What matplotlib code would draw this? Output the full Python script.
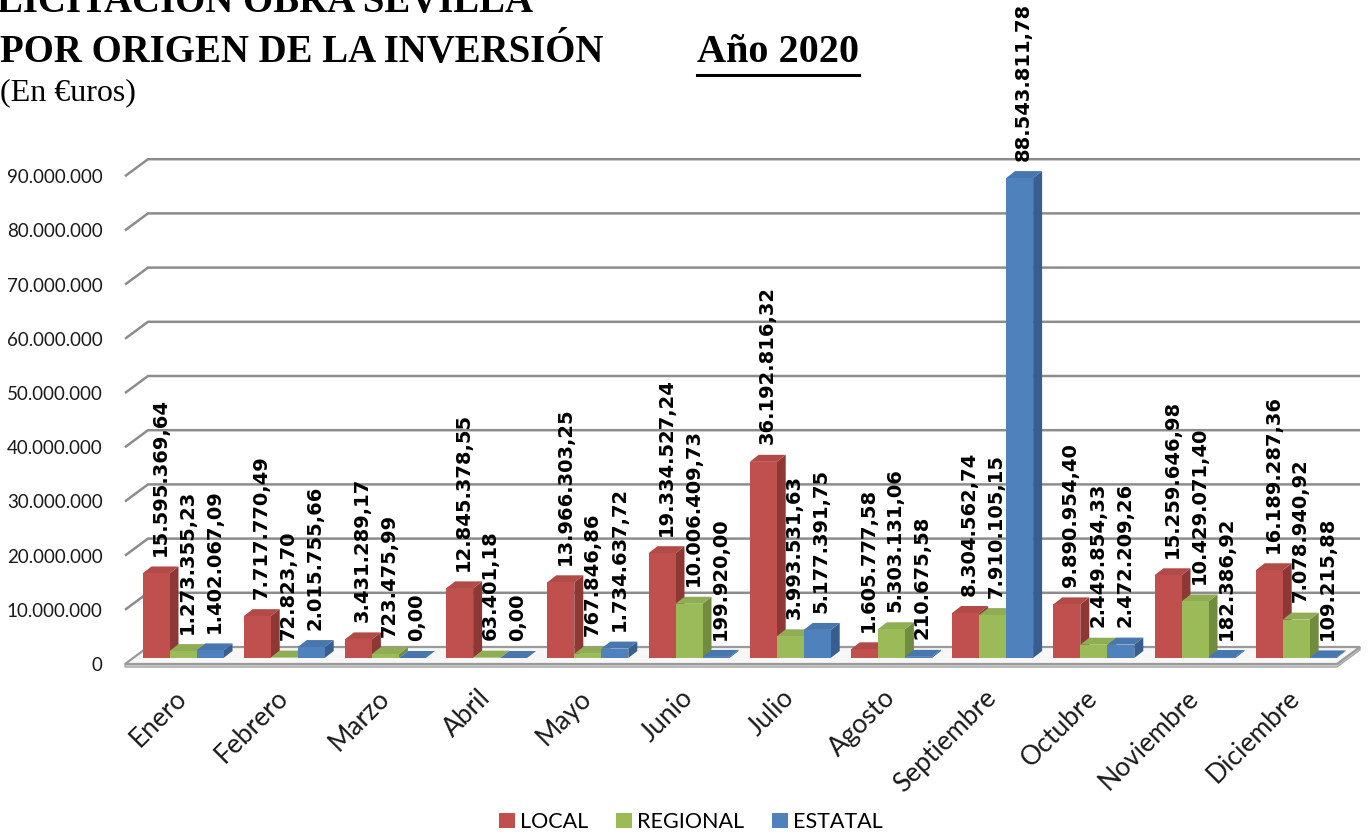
import matplotlib
matplotlib.use("Agg")
import matplotlib.pyplot as plt
from matplotlib.patches import Polygon, Patch
from matplotlib.lines import Line2D

# ---------------- data ----------------
months = ["Enero", "Febrero", "Marzo", "Abril", "Mayo", "Junio", "Julio",
          "Agosto", "Septiembre", "Octubre", "Noviembre", "Diciembre"]
series_names = ["LOCAL", "REGIONAL", "ESTATAL"]
local = [15595369.64, 7717770.49, 3431289.17, 12845378.55, 13966303.25, 19334527.24,
         36192816.32, 1605777.58, 8304562.74, 9890954.40, 15259646.98, 16189287.36]
regional = [1273355.23, 72823.70, 723475.99, 63401.18, 767846.86, 10006409.73,
            3993531.63, 5303131.06, 7910105.15, 2449854.33, 10429071.40, 7078940.92]
estatal = [1402067.09, 2015755.66, 0.00, 0.00, 1734637.72, 199920.00,
           5177391.75, 210675.58, 88543811.78, 2472209.26, 182386.92, 109215.88]
ytick_values = [0, 10e6, 20e6, 30e6, 40e6, 50e6, 60e6, 70e6, 80e6, 90e6]

title_line1 = "LICITACIÓN OBRA SEVILLA"
title_line2 = "POR ORIGEN DE LA INVERSIÓN"
title_year = "Año 2020"
subtitle = "(En €uros)"

# ---------------- styles ----------------
face_colors = ["#C0504D", "#9BBB59", "#4F81BD"]
side_colors = ["#8E3835", "#728C3F", "#375E8F"]
top_colors = ["#B24A47", "#8FAD52", "#4876AF"]
grid_color = "#8C8C8C"
SANS = ["Lato", "DejaVu Sans"]
SERIF = ["Liberation Serif", "DejaVu Serif"]

W, H = 1371, 835
fig = plt.figure(figsize=(W / 100, H / 100), dpi=100)
fig.patch.set_facecolor("white")

PX_CAT = 101.2        # px per category
PX_Y = 5.42e-6        # px per euro
X0 = 183              # px of first group centre
Y0 = 658              # px of bar base
ax_l, ax_r, ax_t, ax_b = 115, 1371, 110, 688
ax = fig.add_axes([ax_l / W, 1 - ax_b / H, (ax_r - ax_l) / W, (ax_b - ax_t) / H])
ax.set_xlim((ax_l - X0) / PX_CAT, (ax_r - X0) / PX_CAT)
ax.set_ylim((Y0 - ax_b) / PX_Y, (Y0 - ax_t) / PX_Y)
ax.patch.set_alpha(0)
for s in ax.spines.values():
    s.set_visible(False)


def dxu(px):
    return px / PX_CAT


def dyu(px):
    return px / PX_Y


# walls / gridlines (pseudo 3D)
FRONT_X = dxu(125 - X0)
BACK_X = dxu(148 - X0)
RIGHT_X = dxu(1360 - X0)
F_DY = dyu(-6)
B_DY = dyu(11)
for v in ytick_values[1:]:
    ax.plot([FRONT_X, BACK_X, RIGHT_X], [v + F_DY, v + B_DY, v + B_DY],
            color=grid_color, lw=1.8, zorder=1, solid_joinstyle="miter",
            solid_capstyle="butt")

# floor
floor_front_r = RIGHT_X - (BACK_X - FRONT_X)
ax.add_patch(Polygon([(FRONT_X, F_DY + dyu(-3)), (floor_front_r, F_DY + dyu(-3)),
                      (RIGHT_X, B_DY + dyu(-3)), (RIGHT_X, B_DY), (floor_front_r, F_DY),
                      (FRONT_X, F_DY)], closed=True, facecolor="#D0D0D0",
                     edgecolor="#A6A6A6", lw=1.0, zorder=1.2))
ax.add_patch(Polygon([(FRONT_X, F_DY), (floor_front_r, F_DY), (RIGHT_X, B_DY),
                      (BACK_X, B_DY)], closed=True, facecolor="#F7F7F7",
                     edgecolor="#9A9A9A", lw=1.6, zorder=1.3))

# bars
BW = dxu(27)
offsets = [-BW, 0.0, BW]
DX = dxu(9)
DY = dyu(7)
series = [local, regional, estatal]


def fmt(v):
    s = f"{v:,.2f}"
    return s.replace(",", "X").replace(".", ",").replace("X", ".")


for i in range(len(months)):
    for j, vals in enumerate(series):
        v = vals[i]
        x = i + offsets[j]
        z = 2 + (i * 3 + j) * 0.01
        xr = x + BW / 2
        xl = x - BW / 2
        ax.add_patch(Polygon([(xr, 0), (xr + DX, DY), (xr + DX, v + DY), (xr, v)],
                             closed=True, facecolor=side_colors[j], edgecolor="none",
                             zorder=z))
        ax.add_patch(Polygon([(xl, v), (xr, v), (xr + DX, v + DY), (xl + DX, v + DY)],
                             closed=True, facecolor=top_colors[j], edgecolor="none",
                             zorder=z + 0.002))
        ax.bar(x, v, width=BW, color=face_colors[j], edgecolor="none", zorder=z + 0.004)
        ax.annotate(fmt(v), xy=(x, v), xytext=(2.9, 12.5), textcoords="offset points",
                    rotation=90, ha="center", va="bottom", fontsize=14,
                    fontweight="bold", family=["DejaVu Sans"], color="black",
                    zorder=10, annotation_clip=False)

# y ticks
ax.set_yticks([v + F_DY for v in ytick_values])
ax.set_yticklabels([f"{int(v):,}".replace(",", ".") for v in ytick_values])
ax.tick_params(axis="y", length=0, pad=9)
for t in ax.get_yticklabels():
    t.set_fontfamily(SANS)
    t.set_fontsize(13.5)
    t.set_color("#1a1a1a")

# x ticks
ax.set_xticks([i - dxu(9) for i in range(len(months))])
ax.set_xticklabels(months)
ax.tick_params(axis="x", length=0, pad=-2)
for t in ax.get_xticklabels():
    t.set_fontfamily(SANS)
    t.set_fontsize(19)
    t.set_rotation(45)
    t.set_ha("right")
    t.set_va("top")
    t.set_rotation_mode("anchor")
    t.set_color("#1a1a1a")

# legend
handles = [Patch(facecolor=c, edgecolor="none") for c in face_colors]
fig.legend(handles, series_names, loc="center", bbox_to_anchor=(691 / W, 1 - 822 / H),
           ncol=3, frameon=False, handlelength=0.72, handleheight=0.72,
           handletextpad=0.25, columnspacing=1.3,
           prop={"family": SANS, "size": 15.5})

# titles
tkw = dict(family=SERIF, fontweight="bold", color="black", va="baseline")
fig.text(-3 / W, 1 - 12 / H, title_line1, fontsize=28, **tkw)
fig.text(0 / W, 1 - 62 / H, title_line2, fontsize=28, **tkw)
year_txt = fig.text(697 / W, 1 - 62 / H, title_year, fontsize=29, **tkw)
fig.text(0 / W, 1 - 100 / H, subtitle, family=SERIF, fontsize=23, color="black",
         va="baseline")

fig.canvas.draw()
bb = year_txt.get_window_extent(renderer=fig.canvas.get_renderer())
uy = (bb.y0 - 4) / H
fig.add_artist(Line2D([bb.x0 / W, bb.x1 / W], [uy, uy], color="black", lw=2.2,
                      transform=fig.transFigure))

fig.savefig("out.png", dpi=100, facecolor="white")
